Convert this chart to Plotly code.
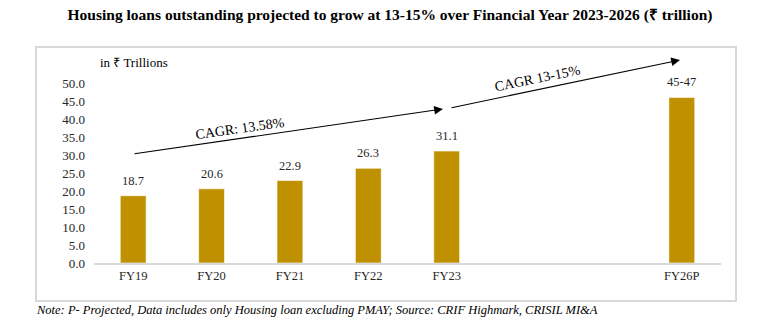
import plotly.graph_objects as go

# ---- data ----
categories = ["FY19", "FY20", "FY21", "FY22", "FY23", "FY24", "FY25", "FY26P"]
tick_labels = ["FY19", "FY20", "FY21", "FY22", "FY23", "", "", "FY26P"]
values = [18.7, 20.6, 22.9, 26.3, 31.1, None, None, 46.0]
value_labels = ["18.7", "20.6", "22.9", "26.3", "31.1", "", "", "45-47"]
y_ticks = [0, 5, 10, 15, 20, 25, 30, 35, 40, 45, 50]

title_text = "<b>Housing loans outstanding projected to grow at 13-15% over Financial Year 2023-2026 (₹ trillion)</b>"
note_text = "<i>Note: P- Projected, Data includes only Housing loan excluding PMAY; Source: CRIF Highmark, CRISIL MI&A</i>"
unit_text = "in ₹ Trillions"
cagr_hist = "CAGR: 13.58%"
cagr_proj = "CAGR 13-15%"

SERIF = "Liberation Serif"
BAR_COLOR = "#BF9000"

# plot-area geometry (pixels) used to place paper-referenced decorations
L, R, T, B = 94, 721, 83, 263
PW, PH = R - L, B - T


def px(xp):
    return (xp - L) / PW


def py(yp):
    return (B - yp) / PH


fig = go.Figure()
fig.add_trace(go.Bar(
    x=categories, y=values,
    marker=dict(color=BAR_COLOR, line=dict(color="rgba(255,255,255,0.6)", width=1)),
    width=0.33,
    cliponaxis=False,
    hoverinfo="skip",
))

annotations = []
for c, v, lab in zip(categories, values, value_labels):
    if v is None:
        continue
    annotations.append(dict(x=c, y=v, xref="x", yref="y", text=lab, showarrow=False,
                            yanchor="bottom", yshift=6,
                            font=dict(family=SERIF, size=12.5, color="#262626")))

# growth arrows (tip in paper coords, tail as pixel offset)
annotations.append(dict(x=px(443), y=py(109), ax=133 - 443, ay=154 - 109,
                        xref="paper", yref="paper", axref="pixel", ayref="pixel",
                        text="", showarrow=True, arrowhead=2, arrowsize=1.6, arrowwidth=1.1,
                        arrowcolor="#000000", standoff=0, startstandoff=0))
annotations.append(dict(x=px(680), y=py(60), ax=450 - 680, ay=108 - 60,
                        xref="paper", yref="paper", axref="pixel", ayref="pixel",
                        text="", showarrow=True, arrowhead=2, arrowsize=1.6, arrowwidth=1.1,
                        arrowcolor="#000000", standoff=0, startstandoff=0))
annotations.append(dict(x=px(240), y=py(128), xref="paper", yref="paper", text=cagr_hist,
                        showarrow=False, textangle=-8, xanchor="center", yanchor="middle",
                        font=dict(family=SERIF, size=14, color="#000000")))
annotations.append(dict(x=px(537), y=py(78), xref="paper", yref="paper", text=cagr_proj,
                        showarrow=False, textangle=-11.5, xanchor="center", yanchor="middle",
                        font=dict(family=SERIF, size=14, color="#000000")))

annotations.append(dict(x=px(98), y=py(63), xref="paper", yref="paper", text=unit_text,
                        showarrow=False, xanchor="left", yanchor="middle",
                        font=dict(family=SERIF, size=13, color="#000000")))

annotations.append(dict(x=px(34), y=py(310), xref="paper", yref="paper", text=note_text,
                        showarrow=False, xanchor="left", yanchor="middle",
                        font=dict(family=SERIF, size=12.5, color="#000000")))

fig.update_layout(
    width=769, height=332,
    margin=dict(l=L, r=769 - R, t=T, b=332 - B),
    paper_bgcolor="white", plot_bgcolor="white",
    showlegend=False,
    font=dict(family=SERIF),
    title=dict(text=title_text, x=390 / 769, xref="container", xanchor="center",
               y=1 - 15 / 332, yref="container", yanchor="middle",
               font=dict(family=SERIF, size=15.5, color="#000000")),
    xaxis=dict(type="category", categoryorder="array", categoryarray=categories,
               tickvals=categories, ticktext=tick_labels,
               showline=True, linecolor="#d9d9d9", linewidth=2,
               ticks="", showgrid=False, zeroline=False,
               tickfont=dict(family=SERIF, size=12.5, color="#262626"),
               range=[-0.5, 7.5]),
    yaxis=dict(range=[0, 50], tickvals=y_ticks, tickformat=".1f",
               showgrid=False, zeroline=False, showline=False, ticks="",
               ticklabelstandoff=8,
               tickfont=dict(family=SERIF, size=13, color="#262626")),
    annotations=annotations,
    shapes=[dict(type="rect", xref="paper", yref="paper",
                 x0=px(36), x1=px(736), y0=py(301), y1=py(47),
                 line=dict(color="#d9d9d9", width=2), layer="below")],
)

fig.write_html("out.html")
